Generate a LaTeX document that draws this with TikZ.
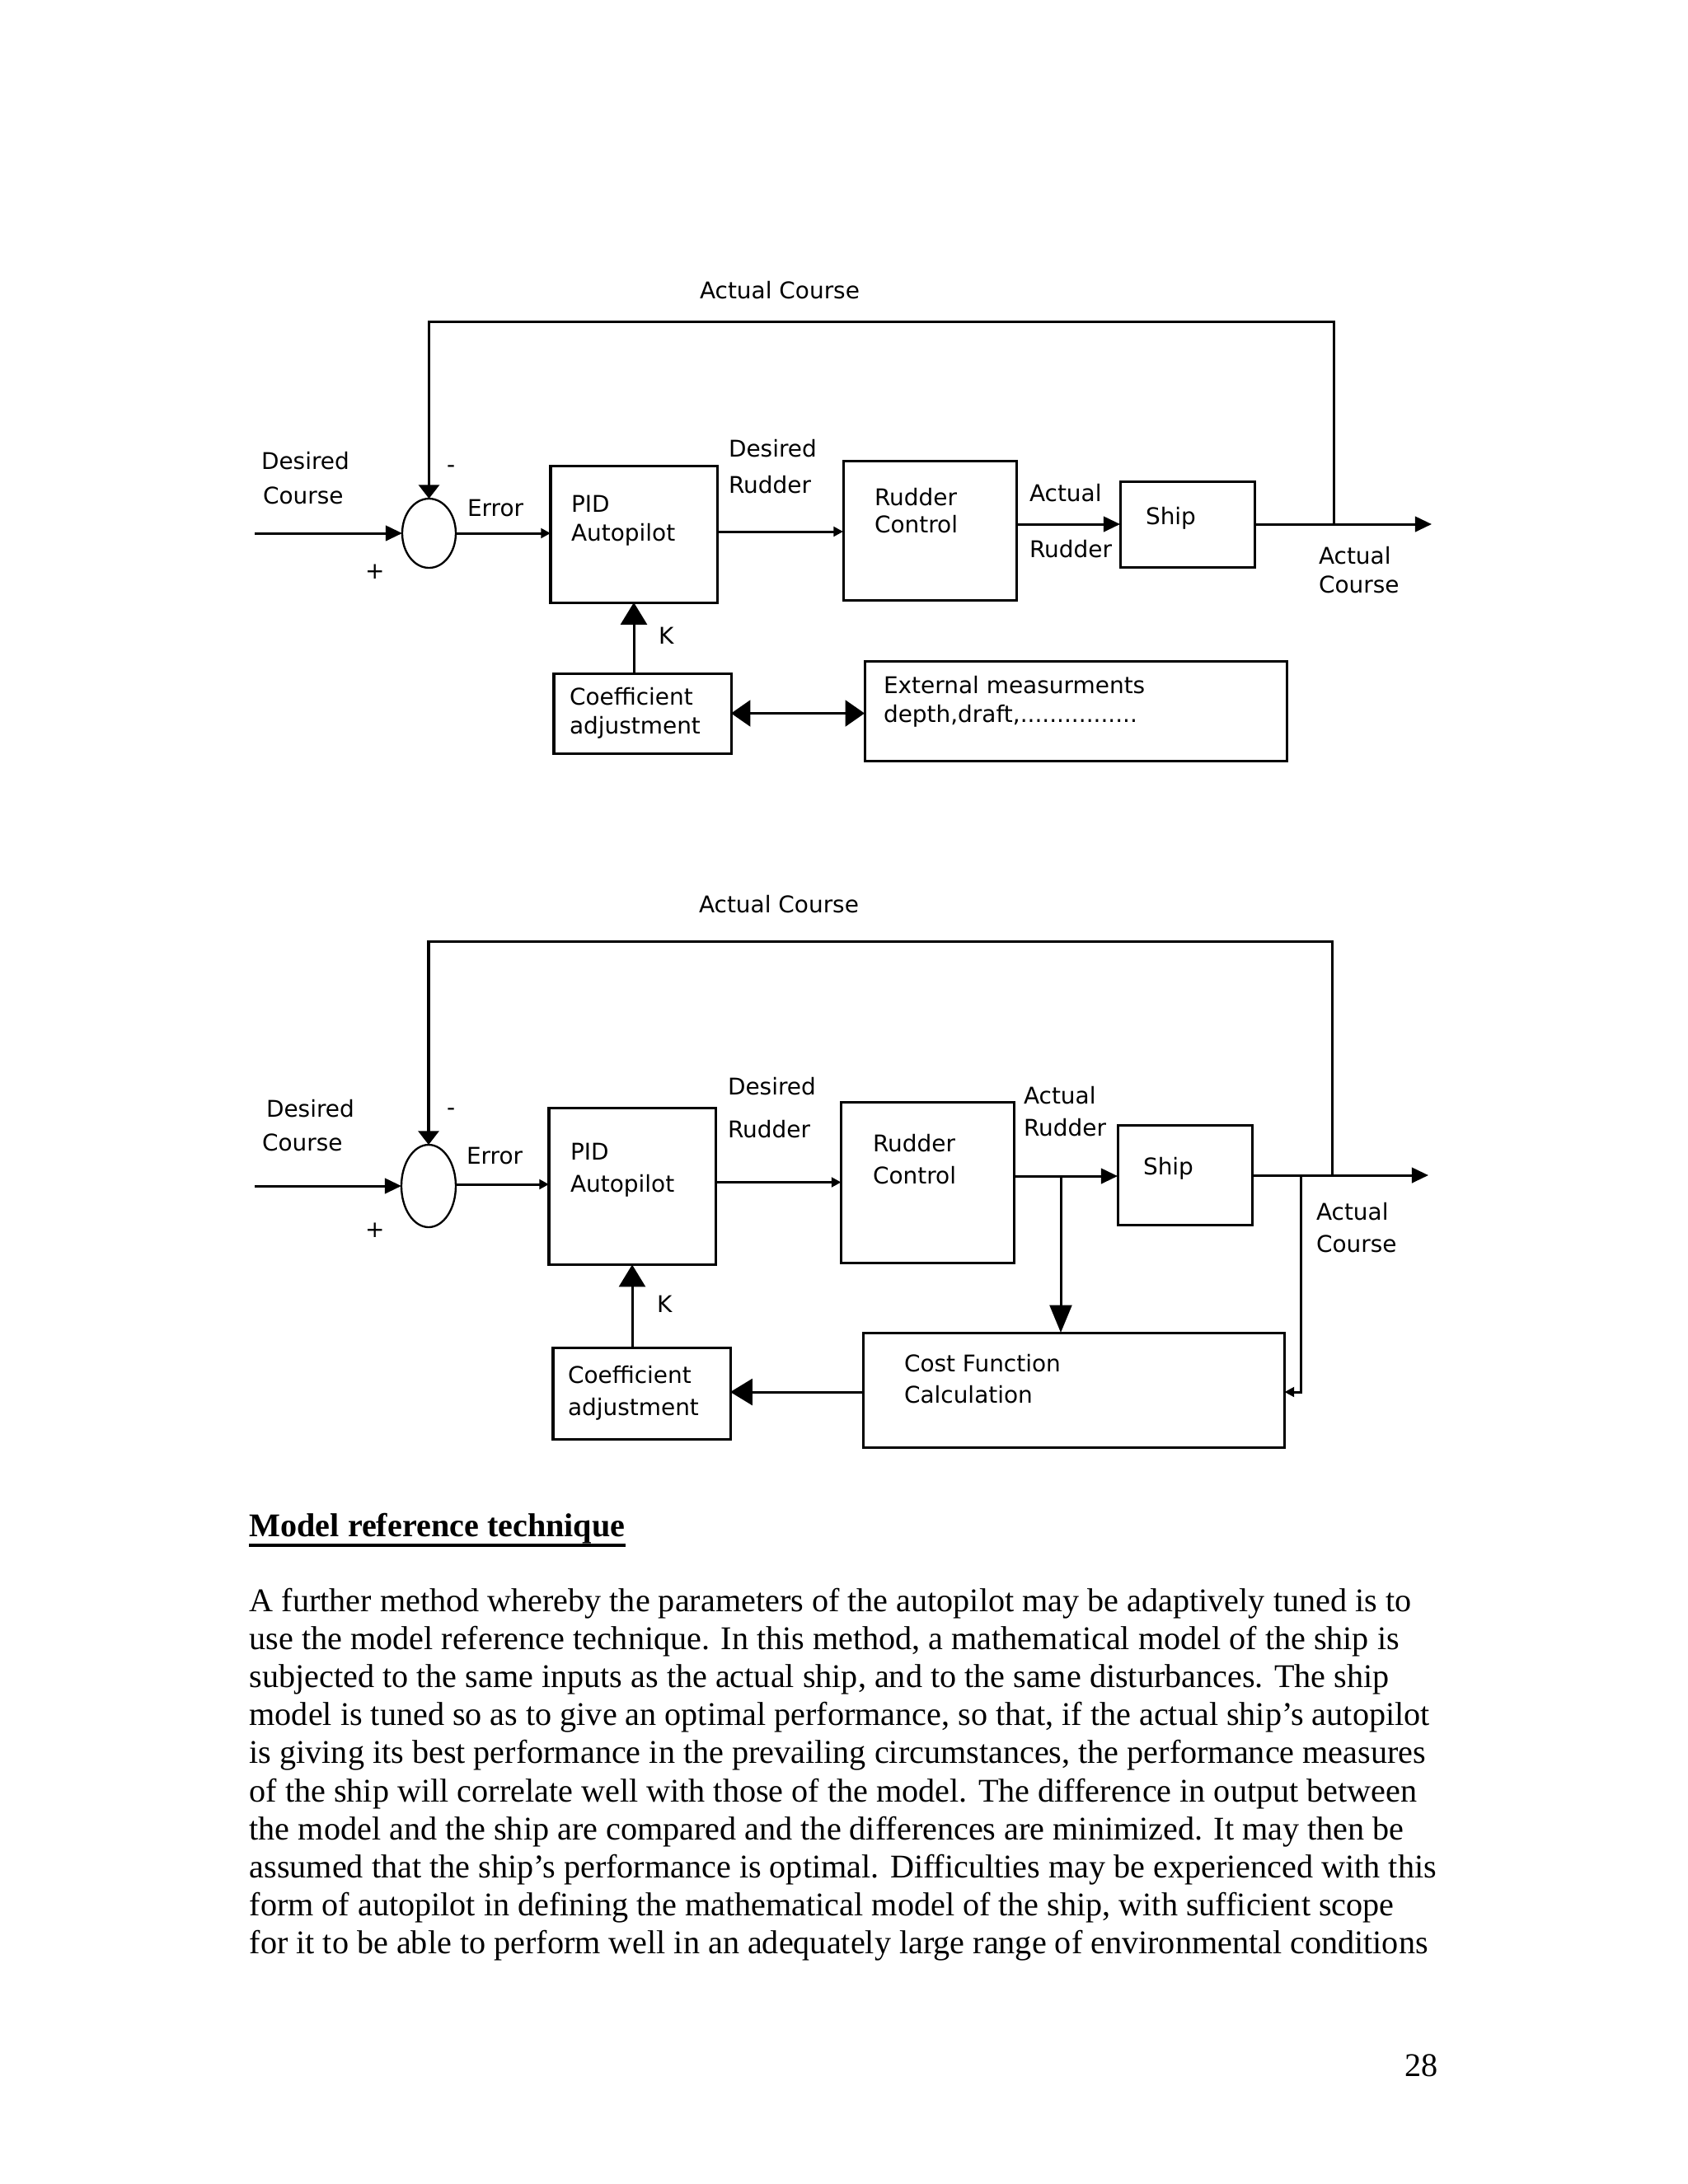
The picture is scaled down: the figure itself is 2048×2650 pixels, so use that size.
\documentclass[tikz,border=0pt]{standalone}
\usepackage{fontspec}
\setmainfont{Liberation Serif}
\newfontfamily\dgfamily{DejaVu Sans}
\usetikzlibrary{arrows.meta,shapes.geometric}
\newlength\pxu
\setlength\pxu{0.298828pt}
\newcommand\dgf{\dgfamily\fontsize{8.35pt}{10pt}\selectfont}
\tikzset{
  lbl/.style={anchor=west, inner sep=0pt, outer sep=0pt, font=\dgf, text height=6.05pt, text depth=0pt},
  blk/.style={draw, line width=0.9pt, inner sep=0pt, outer sep=0pt},
  sumj/.style={draw, ellipse, line width=0.7pt, inner sep=0pt, outer sep=0pt},
  ln/.style={line width=0.9pt},
  bigarr/.style={ln, -{Triangle[length=8pt,width=9.5pt]}},
  bidarr/.style={ln, {Triangle[length=7pt,width=9.5pt]}-{Triangle[length=7pt,width=9.5pt]}},
  downarr/.style={ln, -{Triangle[length=10pt,width=8pt]}},
  midarr/.style={ln, -{Triangle[length=6pt,width=5.5pt]}},
  fbarr/.style={ln, -{Triangle[length=5pt,width=7.5pt]}},
  smallarr/.style={ln, -{Triangle[length=3.5pt,width=3.5pt]}},
  body/.style={anchor=base west, inner sep=0pt, font=\fontsize{12pt}{13.8pt}\selectfont},
}
\begin{document}
\begin{tikzpicture}[x=0.298828pt, y=-0.298828pt]
\useasboundingbox[fill=white] (0,0) rectangle (2048,2650);

% ---------------- top diagram ----------------
\node[sumj, minimum width=65\pxu, minimum height=84\pxu] (sum1) at (520.5,647) {};
\node[blk, minimum width=202\pxu, minimum height=166\pxu] (PID1) at (769,648) {};
\node[blk, minimum width=210\pxu, minimum height=169\pxu] (RC1) at (1128,643.5) {};
\node[blk, minimum width=163\pxu, minimum height=104\pxu] (Ship1) at (1440.5,636) {};
\node[blk, minimum width=215\pxu, minimum height=97\pxu] (Coef1) at (779.5,865.5) {};
\node[blk, minimum width=512\pxu, minimum height=121\pxu] (Ext1) at (1305,862.5) {};

\coordinate (in1) at (309,647);
\coordinate (out1) at (1737,636);
\coordinate (fb1) at (1618,636);
\coordinate (fbc1) at (1618,390);

\draw[midarr] (in1) -- (sum1.west);
\draw[ln] (Ship1.east) -- (fb1);
\draw[midarr] (fb1) -- (out1);
\draw[fbarr] (fb1) -- (fbc1) -| (sum1.north);
\draw[smallarr] (sum1.east) -- (sum1.east -| PID1.west);
\draw[smallarr] (PID1.east |- RC1.west) ++(0,1.5) coordinate (p1) (p1) -- (p1 -| RC1.west);
\draw[midarr] (Ship1.west -| RC1.east) -- (Ship1.west);
\draw[bigarr] (PID1.south |- Coef1.north) -- (PID1.south);
\draw[bidarr] (Coef1.east) -- (Coef1.east -| Ext1.west);

\node[lbl] (t1ac) at (849,352) {Actual Course};
\node[lbl] (t1d1) at (317,559) {Desired};
\node[lbl] (t1d2) at (319,601) {Course};
\node[lbl] (t1mi) at (542,563) {-};
\node[lbl] (t1pl) at (443,692) {+};
\node[lbl] (t1er) at (567,616) {Error};
\node[lbl] (t1p1) at (693,611) {PID};
\node[lbl] (t1p2) at (693,646) {Autopilot};
\node[lbl] (t1r1) at (884,544) {Desired};
\node[lbl] (t1r2) at (884,588) {Rudder};
\node[lbl] (t1c1) at (1061,603) {Rudder};
\node[lbl] (t1c2) at (1061,636) {Control};
\node[lbl] (t1a1) at (1249,598) {Actual};
\node[lbl] (t1a2) at (1249,666) {Rudder};
\node[lbl] (t1sh) at (1390,626) {Ship};
\node[lbl] (t1o1) at (1600,674) {Actual};
\node[lbl] (t1o2) at (1600,709) {Course};
\node[lbl] (t1k) at (799,771) {K};
\node[lbl] (t1k1) at (691,845) {Coefficient};
\node[lbl] (t1k2) at (691,880) {adjustment};
\node[lbl] (t1e1) at (1072,831) {External measurments};
\node[lbl] (t1e2) at (1072,866) {depth,draft,................};

% ---------------- bottom diagram ----------------
\node[sumj, minimum width=66\pxu, minimum height=100\pxu] (sum2) at (520,1439) {};
\node[blk, minimum width=202\pxu, minimum height=190\pxu] (PID2) at (767,1439.5) {};
\node[blk, minimum width=210\pxu, minimum height=195\pxu] (RC2) at (1125.5,1434.5) {};
\node[blk, minimum width=163\pxu, minimum height=121\pxu] (Ship2) at (1437.5,1426) {};
\node[blk, minimum width=511\pxu, minimum height=139\pxu] (Cost2) at (1303,1686.5) {};
\node[blk, minimum width=215\pxu, minimum height=111\pxu] (Coef2) at (778.5,1690.5) {};

\coordinate (in2) at (309,1439);
\coordinate (out2) at (1733,1426);
\coordinate (fb2) at (1616,1426);
\coordinate (fbc2) at (1616,1142);
\coordinate (br2) at (1578,1426);
\coordinate (brc2) at (1578,1689);
\coordinate (rb2) at (1287,1427);

\draw[midarr] (in2) -- (sum2.west);
\draw[ln] (Ship2.east) -- (fb2);
\draw[midarr] (fb2) -- (out2);
\draw[fbarr] (fb2) -- (fbc2) -| (sum2.north);
\draw[smallarr] (sum2.east) ++(0,-2) coordinate (e2) (e2) -- (e2 -| PID2.west);
\draw[smallarr] (PID2.east |- RC2.west) -- (RC2.west);
\draw[midarr] (RC2.east |- Ship2.west) ++(0,1) coordinate (r2) (r2) -- (r2 -| Ship2.west);
\draw[downarr] (rb2) -- (rb2 |- Cost2.north);
\draw[smallarr] (br2) -- (brc2) -- (brc2 -| Cost2.east);
\draw[bigarr] (PID2.south |- Coef2.north) -- (PID2.south);
\draw[bigarr] (Cost2.west |- brc2) -- (Coef2.east |- brc2);

\node[lbl] (t2ac) at (848,1097) {Actual Course};
\node[lbl] (t2d1) at (323,1345) {Desired};
\node[lbl] (t2d2) at (318,1386) {Course};
\node[lbl] (t2mi) at (542,1343) {-};
\node[lbl] (t2pl) at (443,1491) {+};
\node[lbl] (t2er) at (566,1402) {Error};
\node[lbl] (t2p1) at (692,1397) {PID};
\node[lbl] (t2p2) at (692,1436) {Autopilot};
\node[lbl] (t2r1) at (883,1318) {Desired};
\node[lbl] (t2r2) at (883,1370) {Rudder};
\node[lbl] (t2c1) at (1059,1387) {Rudder};
\node[lbl] (t2c2) at (1059,1426) {Control};
\node[lbl] (t2a1) at (1242,1329) {Actual};
\node[lbl] (t2a2) at (1242,1368) {Rudder};
\node[lbl] (t2sh) at (1387,1415) {Ship};
\node[lbl] (t2o1) at (1597,1470) {Actual};
\node[lbl] (t2o2) at (1597,1509) {Course};
\node[lbl] (t2k) at (797,1582) {K};
\node[lbl] (t2k1) at (689,1668) {Coefficient};
\node[lbl] (t2k2) at (689,1707) {adjustment};
\node[lbl] (t2f1) at (1097,1654) {Cost Function};
\node[lbl] (t2f2) at (1097,1692) {Calculation};

% ---------------- text ----------------
\node[body] (head) at (302,1864) {\textbf{Model reference technique}};
\draw[line width=1.2pt] ([yshift=-3.4pt]head.base west) -- ([yshift=-3.4pt]head.base east);
\node[body] (l1) at (302,1955) {A further method whereby the parameters of the autopilot may be adaptively tuned is to};
\node[body] (l2) at (302,2001.2) {use the model reference technique. In this method, a mathematical model of the ship is};
\node[body] (l3) at (302,2047.4) {subjected to the same inputs as the actual ship, and to the same disturbances. The ship};
\node[body] (l4) at (302,2093.6) {model is tuned so as to give an optimal performance, so that, if the actual ship’s autopilot};
\node[body] (l5) at (302,2139.8) {is giving its best performance in the prevailing circumstances, the performance measures};
\node[body] (l6) at (302,2186) {of the ship will correlate well with those of the model. The difference in output between};
\node[body] (l7) at (302,2232.2) {the model and the ship are compared and the differences are minimized. It may then be};
\node[body] (l8) at (302,2278.4) {assumed that the ship’s performance is optimal. Difficulties may be experienced with this};
\node[body] (l9) at (302,2324.6) {form of autopilot in defining the mathematical model of the ship, with sufficient scope};
\node[body] (l10) at (302,2370.8) {for it to be able to perform well in an adequately large range of environmental conditions};
\node[body, anchor=base east] (pg) at (1745,2519) {28};
\end{tikzpicture}
\end{document}
